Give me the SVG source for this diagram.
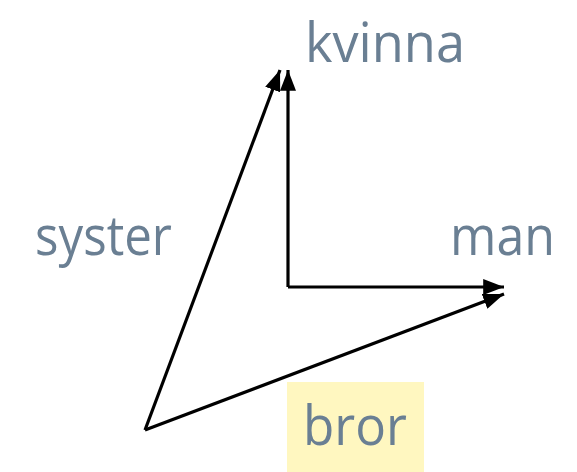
<svg xmlns="http://www.w3.org/2000/svg" width="577" height="472" viewBox="0 0 577 472">
<style>
.lbl{font-family:"Open Sans","Noto Sans",sans-serif;font-size:55px;fill:#6a7f93}
.ln{stroke:#000;stroke-width:3.2;fill:none}
</style>
<defs>
<marker id="ah" markerWidth="6.5" markerHeight="5" refX="6.5" refY="2.5" orient="auto" markerUnits="strokeWidth">
<path d="M0,0 L6.5,2.5 L0,5 Z" fill="#000"/>
</marker>
</defs>
<rect width="577" height="472" fill="#fff"/>
<g id="connectors">
<line class="ln" x1="288" y1="287" x2="288" y2="70" marker-end="url(#ah)"/>
<line class="ln" x1="288" y1="287" x2="504" y2="287" marker-end="url(#ah)"/>
<line class="ln" x1="145" y1="430" x2="280" y2="70" marker-end="url(#ah)"/>
<line class="ln" x1="145" y1="430" x2="504" y2="294" marker-end="url(#ah)"/>
</g>
<g id="kvinna"><text class="lbl" x="305" y="62" textLength="160" lengthAdjust="spacingAndGlyphs">kvinna</text></g>
<g id="syster"><text class="lbl" x="35" y="255" textLength="137" lengthAdjust="spacingAndGlyphs">syster</text></g>
<g id="man"><text class="lbl" x="450" y="255" textLength="105" lengthAdjust="spacingAndGlyphs">man</text></g>
<g id="bror"><rect x="287" y="382" width="137" height="90" fill="#fff7c0"/><text class="lbl" x="303" y="445" textLength="104" lengthAdjust="spacingAndGlyphs">bror</text></g>
</svg>
